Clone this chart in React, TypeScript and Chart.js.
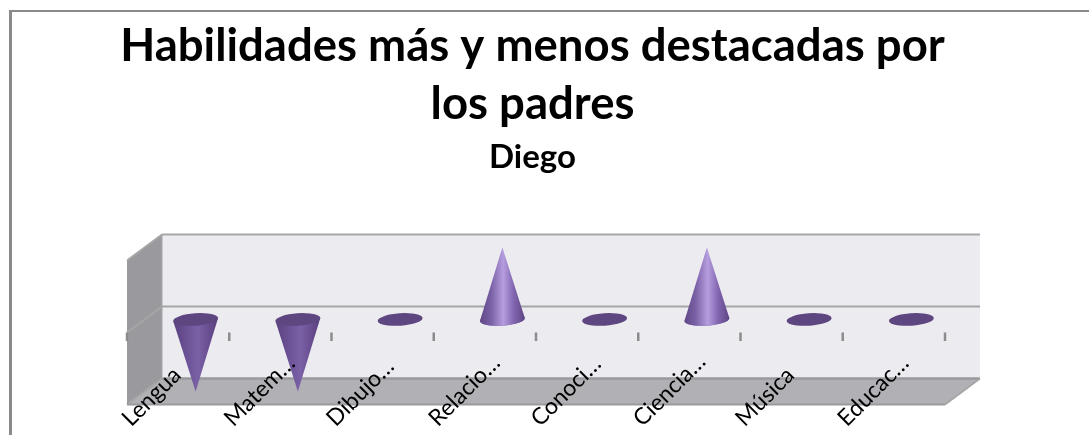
import React, { useEffect, useRef } from "react";
import { Chart, registerables, BarController } from "chart.js";

Chart.register(...registerables);

const categories = ["Lengua", "Matem…", "Dibujo…", "Relacio…", "Conoci…", "Ciencia…", "Música", "Educac…"];
const seriesValues = [-1, -1, 0, 1, 0, 1, 0, 0];
const titleLines = ["Habilidades más y menos destacadas por", "los padres"];
const subtitleText = "Diego";

const DX = 35;
const DY = -26;
const FONT = "Lato, Carlito, 'Open Sans', sans-serif";

class ConeController extends BarController {
  static id = "cone";
  static defaults = { ...(BarController as any).defaults, dataElementType: "bar" };
  static overrides = (BarController as any).overrides;
  draw() {
    const ctx: CanvasRenderingContext2D = (this as any).chart.ctx;
    const meta = (this as any)._cachedMeta;
    for (const el of meta.data) {
      const { x, y, base, width } = el.getProps(["x", "y", "base", "width"], true);
      const cx = x + DX / 2;
      const by = base + DY / 2;
      const ty = y + DY / 2;
      const rx = width / 2;
      const ry = 6.2;
      const tilt = (-4 * Math.PI) / 180;
      const up = ty < by - 1;
      const down = ty > by + 1;
      const ex = Math.cos(tilt) * rx;
      const ey = Math.sin(tilt) * rx;
      ctx.save();
      if (up) {
        ctx.fillStyle = "#7d64aa";
        ctx.beginPath();
        ctx.ellipse(cx, by, rx, ry, tilt, 0, Math.PI * 2);
        ctx.fill();
      }
      if (up || down) {
        const g = ctx.createLinearGradient(cx - rx, 0, cx + rx, 0);
        if (up) {
          g.addColorStop(0, "#5f4786");
          g.addColorStop(0.25, "#7a61a6");
          g.addColorStop(0.52, "#b59ddf");
          g.addColorStop(0.75, "#8266b0");
          g.addColorStop(1, "#5d4583");
        } else {
          g.addColorStop(0, "#5a4280");
          g.addColorStop(0.3, "#6b5195");
          g.addColorStop(0.55, "#7a60a6");
          g.addColorStop(0.8, "#684e90");
          g.addColorStop(1, "#583f7c");
        }
        ctx.fillStyle = g;
        ctx.beginPath();
        ctx.moveTo(cx, ty);
        ctx.lineTo(cx + ex, by + ey);
        if (up) ctx.ellipse(cx, by, rx, ry, tilt, 0, Math.PI);
        else ctx.lineTo(cx - ex, by - ey);
        ctx.closePath();
        ctx.fill();
      }
      if (!up) {
        ctx.fillStyle = "#5e4680";
        ctx.beginPath();
        ctx.ellipse(cx, by, rx, ry, tilt, 0, Math.PI * 2);
        ctx.fill();
      }
      ctx.restore();
    }
  }
}
Chart.register(ConeController as any);

const wallsPlugin = {
  id: "walls",
  beforeDatasetsDraw(chart: any) {
    const { ctx } = chart;
    const xs = chart.scales.x;
    const ys = chart.scales.y;
    const left = xs.left;
    const right = xs.right;
    const top = ys.getPixelForValue(1);
    const bottom = ys.getPixelForValue(-1);
    const zero = ys.getPixelForValue(0);
    const poly = (pts: number[][], fill: string) => {
      ctx.fillStyle = fill;
      ctx.beginPath();
      pts.forEach((p, i) => (i ? ctx.lineTo(p[0], p[1]) : ctx.moveTo(p[0], p[1])));
      ctx.closePath();
      ctx.fill();
    };
    const line = (a: number[], b: number[], color: string, w: number) => {
      ctx.strokeStyle = color;
      ctx.lineWidth = w;
      ctx.beginPath();
      ctx.moveTo(a[0], a[1]);
      ctx.lineTo(b[0], b[1]);
      ctx.stroke();
    };
    ctx.save();
    poly([[left + DX, top + DY], [right + DX, top + DY], [right + DX, bottom + DY], [left + DX, bottom + DY]], "#ecebf0");
    poly([[left, top], [left + DX, top + DY], [left + DX, bottom + DY], [left, bottom]], "#9a999d");
    poly([[left, bottom], [left + DX, bottom + DY], [right + DX, bottom + DY], [right, bottom]], "#b1b0b5");
    line([left + DX, top + DY], [right + DX, top + DY], "#a6a6a6", 2);
    line([left, top], [left + DX, top + DY], "#a6a6a6", 2);
    line([left + DX, zero + DY], [right + DX, zero + DY], "#a6a6a6", 2);
    line([left, zero], [left + DX, zero + DY], "#a6a6a6", 2);
    line([left + DX, bottom + DY], [right + DX, bottom + DY], "#9a999d", 2.5);
    line([left, bottom], [left + DX, bottom + DY], "#a6a6a6", 2);
    line([left, bottom], [right, bottom], "#9a999d", 2);
    line([right, bottom], [right + DX, bottom + DY], "#a6a6a6", 2);
    line([left + DX, top + DY], [left + DX, bottom + DY], "#a6a6a6", 1);
    for (let i = 0; i <= categories.length; i++) {
      const px = xs.getPixelForValue(i - 0.5);
      line([px, zero], [px, zero + 8.5], "#8c8c8c", 2.5);
    }
    ctx.restore();
  },
};

export default function App() {
  const ref = useRef<HTMLCanvasElement>(null);
  useEffect(() => {
    const chart = new Chart(ref.current as HTMLCanvasElement, {
      type: "cone" as any,
      data: {
        labels: categories,
        datasets: [{ data: seriesValues, categoryPercentage: 1, barPercentage: 0.44, clip: false } as any],
      },
      plugins: [wallsPlugin],
      options: {
        responsive: false,
        animation: false,
        layout: { padding: { left: 120, right: 144, top: 17, bottom: 30.5 } },
        plugins: {
          legend: { display: false },
          tooltip: { enabled: false },
          title: {
            display: true,
            text: titleLines,
            color: "#000",
            font: { family: FONT, size: 45.5, weight: "bold", lineHeight: 1.283 },
            padding: { top: 0, bottom: 0 },
          },
          subtitle: {
            display: true,
            text: subtitleText,
            color: "#000",
            font: { family: FONT, size: 33, weight: "bold", lineHeight: 1.2 },
            padding: { top: 3.4, bottom: 83.7 },
          },
        },
        scales: {
          x: {
            type: "category",
            afterBuildTicks: (s: any) => {
              s._getXAxisLabelAlignment = () => "left";
              s._computeLabelArea = () => undefined;
            },
            afterFit: (s: any) => {
              s.height = 0;
            },
            grid: { display: false },
            border: { display: false },
            ticks: {
              autoSkip: false,
              minRotation: 45,
              maxRotation: 45,
              padding: 0,
              labelOffset: -52,
              color: "#000",
              z: 1,
              font: { family: FONT, size: 23 },
            },
          },
          y: {
            type: "linear",
            min: -1,
            max: 1,
            afterFit: (s: any) => {
              s.width = 7;
            },
            grid: { display: false },
            border: { display: false },
            ticks: { display: false, stepSize: 1 },
          },
        },
      } as any,
    });
    return () => chart.destroy();
  }, []);
  return (
    <div style={{ position: "fixed", left: 0, top: 0, width: 1089, height: 435, overflow: "hidden", background: "#fff" }}>
      <div style={{ position: "absolute", left: 9, top: 10, width: 1089, height: 435, borderLeft: "3px solid #8a8a8a", borderTop: "2px solid #8a8a8a" }} />
      <canvas ref={ref} width={1089} height={435} style={{ position: "absolute", left: 0, top: 0 }} />
    </div>
  );
}
